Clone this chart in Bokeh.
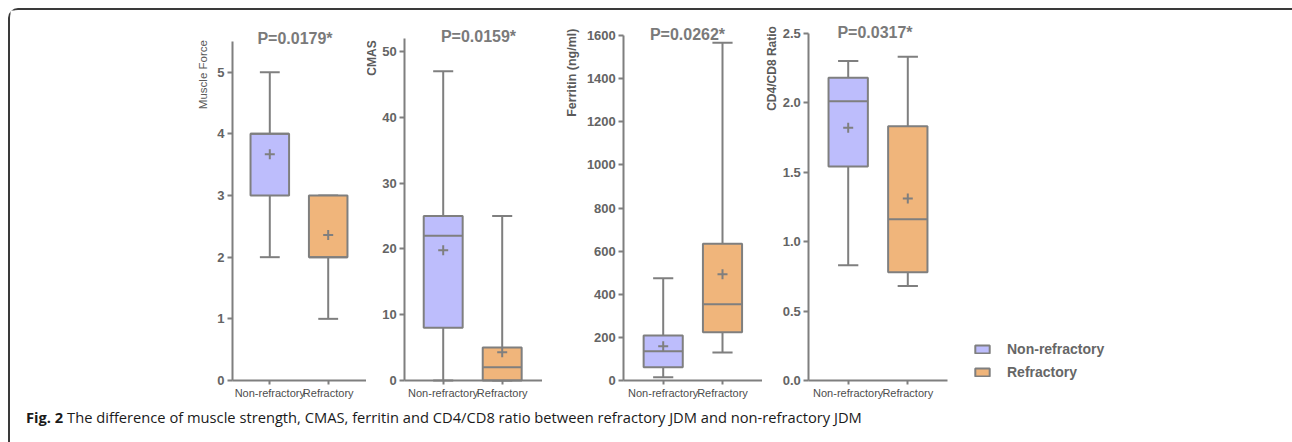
import math
from bokeh.plotting import figure
from bokeh.models import (ColumnDataSource, Range1d, FixedTicker, Label,
                          Legend, LegendItem, NumeralTickFormatter, Div)
from bokeh.transform import dodge
from bokeh.layouts import row, column
from bokeh.embed import file_html
from bokeh.resources import INLINE

# ---------------- data ----------------
groups = ["Non-refractory", "Refractory"]

mf_min = [2, 1]
mf_q1 = [3, 2]
mf_med = [4, 2]
mf_q3 = [4, 3]
mf_max = [5, 3]
mf_mean = [3.67, 2.36]

cmas_min = [0, 0]
cmas_q1 = [8, 0]
cmas_med = [22, 2]
cmas_q3 = [25, 5]
cmas_max = [47, 25]
cmas_mean = [19.8, 4.3]

fer_min = [15, 130]
fer_q1 = [62, 224]
fer_med = [136, 354]
fer_q3 = [209, 634]
fer_max = [474, 1566]
fer_mean = [159, 493]

cd_min = [0.83, 0.68]
cd_q1 = [1.54, 0.78]
cd_med = [2.01, 1.16]
cd_q3 = [2.18, 1.83]
cd_max = [2.30, 2.33]
cd_mean = [1.82, 1.31]

titles = ["P=0.0179*", "P=0.0159*", "P=0.0262*", "P=0.0317*"]
ylabels = ["Muscle Force", "CMAS", "Ferritin (ng/ml)", "CD4/CD8 Ratio"]
mf_ticks = [0, 1, 2, 3, 4, 5]
cmas_ticks = [0, 10, 20, 30, 40, 50]
fer_ticks = [0, 200, 400, 600, 800, 1000, 1200, 1400, 1600]
cd_ticks = [0, 0.5, 1.0, 1.5, 2.0, 2.5]
caption_bold = "Fig. 2"
caption_text = ("The difference of muscle strength, CMAS, ferritin and CD4/CD8 ratio "
                "between refractory JDM and non-refractory JDM")

# ---------------- styles / layout ----------------
FILLS = ["#BDBDFC", "#F0B57B"]
GRAY = "#7f7f7f"
TICK_COLOR = "#646464"
FONT = "Liberation Sans"
FIG_H = 392          # figure height (px)
ZERO_PX = 370        # px from figure top to the value 0 (x axis)
POS = list(range(1, len(groups) + 1))   # slot of each group on the x scale


def panel(lo, q1, med, q3, hi, mean, title, ylabel, ytop, y_px_per_unit, ticks, fmt,
          width, axis_px, slot_px, title_px, title_y, lab_px, lab_y,
          lab_size, lab_style, x_axis_end_px=None):
    x_start = POS[0] - slot_px[0] / slot_px[1]
    x_end = x_start + width / slot_px[1]
    to_x = lambda px: x_start + px / slot_px[1]
    p = figure(x_range=Range1d(x_start, x_end),
               y_range=Range1d(-(FIG_H - ZERO_PX) / y_px_per_unit, ZERO_PX / y_px_per_unit),
               width=width, height=FIG_H,
               min_border_left=0, min_border_right=0, min_border_top=0,
               min_border_bottom=0, toolbar_location=None,
               output_backend="svg", title=None, outline_line_color=None)
    src = ColumnDataSource(dict(x=POS, lo=lo, q1=q1, med=med, q3=q3, hi=hi,
                                mean=mean, fill=FILLS))
    lw = 2
    p.segment(x0="x", y0="q3", x1="x", y1="hi", source=src, line_color=GRAY, line_width=lw)
    p.segment(x0="x", y0="q1", x1="x", y1="lo", source=src, line_color=GRAY, line_width=lw)
    p.segment(x0=dodge("x", -0.17), y0="hi", x1=dodge("x", 0.17), y1="hi",
              source=src, line_color=GRAY, line_width=lw)
    p.segment(x0=dodge("x", -0.17), y0="lo", x1=dodge("x", 0.17), y1="lo",
              source=src, line_color=GRAY, line_width=lw)
    box = p.vbar(x="x", bottom="q1", top="q3", width=0.66, source=src,
                 fill_color="fill", line_color=GRAY, line_width=lw)
    p.segment(x0=dodge("x", -0.33), y0="med", x1=dodge("x", 0.33), y1="med",
              source=src, line_color=GRAY, line_width=lw)
    p.scatter(x="x", y="mean", source=src, marker="cross", size=10,
              line_color=GRAY, line_width=2)

    p.xgrid.visible = False
    p.ygrid.visible = False
    y_axis_x = to_x(axis_px)
    for ax in (p.xaxis[0], p.yaxis[0]):
        ax.axis_line_color = GRAY
        ax.axis_line_width = 2
        ax.major_tick_line_color = GRAY
        ax.major_tick_line_width = 2
        ax.major_tick_in = 0
        ax.minor_tick_line_color = None
    p.xaxis.fixed_location = 0
    p.xaxis.bounds = (y_axis_x, to_x(x_axis_end_px) if x_axis_end_px else x_end)
    p.xaxis.ticker = FixedTicker(ticks=POS)
    p.xaxis.major_label_overrides = {pos: g for pos, g in zip(POS, groups)}
    p.xaxis.major_tick_out = 4
    p.xaxis.major_label_standoff = 2
    p.xaxis.major_label_text_font = FONT
    p.xaxis.major_label_text_font_size = "11px"
    p.xaxis.major_label_text_color = "#4d4d4d"

    p.yaxis.fixed_location = y_axis_x
    p.yaxis.bounds = (0, ytop)
    p.yaxis.major_tick_out = 5
    p.yaxis.major_label_standoff = 3
    p.yaxis.ticker = FixedTicker(ticks=ticks)
    p.yaxis.formatter = NumeralTickFormatter(format=fmt)
    p.yaxis.major_label_text_font = FONT
    p.yaxis.major_label_text_font_style = "bold"
    p.yaxis.major_label_text_font_size = "13px"
    p.yaxis.major_label_text_color = TICK_COLOR

    p.add_layout(Label(x=to_x(title_px), y=title_y, text=title,
                       text_align="center", text_baseline="middle", text_font=FONT,
                       text_font_style="bold", text_font_size="16px",
                       text_color="#7a7a7a"))
    p.add_layout(Label(x=to_x(lab_px), y=lab_y, text=ylabel,
                       angle=math.pi / 2, text_align="right",
                       text_baseline="alphabetic", text_font=FONT,
                       text_font_style=lab_style, text_font_size=lab_size,
                       text_color="#5a5a5a"))
    return p, box


# positions in px relative to each figure's left edge
p1, _ = panel(mf_min, mf_q1, mf_med, mf_q3, mf_max, mf_mean, titles[0], ylabels[0],
              5.5, 61.66, mf_ticks, "0", width=356, axis_px=222,
              slot_px=(259.3, 58.4), title_px=284.5, title_y=5.55,
              lab_px=192.5, lab_y=5.52, lab_size="11.5px", lab_style="normal")
p2, _ = panel(cmas_min, cmas_q1, cmas_med, cmas_q3, cmas_max, cmas_mean, titles[1],
              ylabels[1], 52, 6.58, cmas_ticks, "0", width=176, axis_px=38.3,
              slot_px=(76.7, 59.0), title_px=112, title_y=52.3,
              lab_px=5, lab_y=51.7, lab_size="12px", lab_style="bold")
p3, _ = panel(fer_min, fer_q1, fer_med, fer_q3, fer_max, fer_mean, titles[2],
              ylabels[2], 1600, 0.215625, fer_ticks, "0", width=220, axis_px=81.3,
              slot_px=(120.7, 59.3), title_px=145, title_y=1605,
              lab_px=29, lab_y=1632, lab_size="12.5px", lab_style="bold")
p4, box4 = panel(cd_min, cd_q1, cd_med, cd_q3, cd_max, cd_mean, titles[3],
                 ylabels[3], 2.5, 138.92, cd_ticks, "0.0", width=528, axis_px=46.3,
                 slot_px=(85.7, 59.6), title_px=112.5, title_y=2.505,
                 lab_px=9, lab_y=2.551, lab_size="12px", lab_style="bold",
                 x_axis_end_px=185)

# ---------------- legend (inside the wide last figure) ----------------
legend = Legend(items=[LegendItem(label=groups[0], renderers=[box4], index=0),
                       LegendItem(label=groups[1], renderers=[box4], index=1)],
                location=(211, FIG_H - ZERO_PX), margin=0, padding=0, spacing=7,
                glyph_width=18, glyph_height=10, label_height=12, label_standoff=16,
                label_text_font=FONT, label_text_font_style="bold",
                label_text_font_size="14px", label_text_color="#666666",
                border_line_color=None, background_fill_alpha=0)
p4.add_layout(legend)

caption = Div(
    text=('<div style="margin-top:-3px; padding:0 0 0 11px; white-space:nowrap;">'
          f'<b>{caption_bold}</b> {caption_text}</div>'),
    width=1280, height=40,
    styles={"font-family": "'Open Sans'", "font-size": "14.7px", "color": "#1a1a1a"})

layout = column(row(p1, p2, p3, p4), caption, margin=(8, 0, 0, 8),
                styles={"border-top": "2px solid #3a3a3a",
                        "border-left": "2px solid #3a3a3a",
                        "border-top-left-radius": "10px"})

open("out.html", "w").write(file_html(layout, INLINE))
